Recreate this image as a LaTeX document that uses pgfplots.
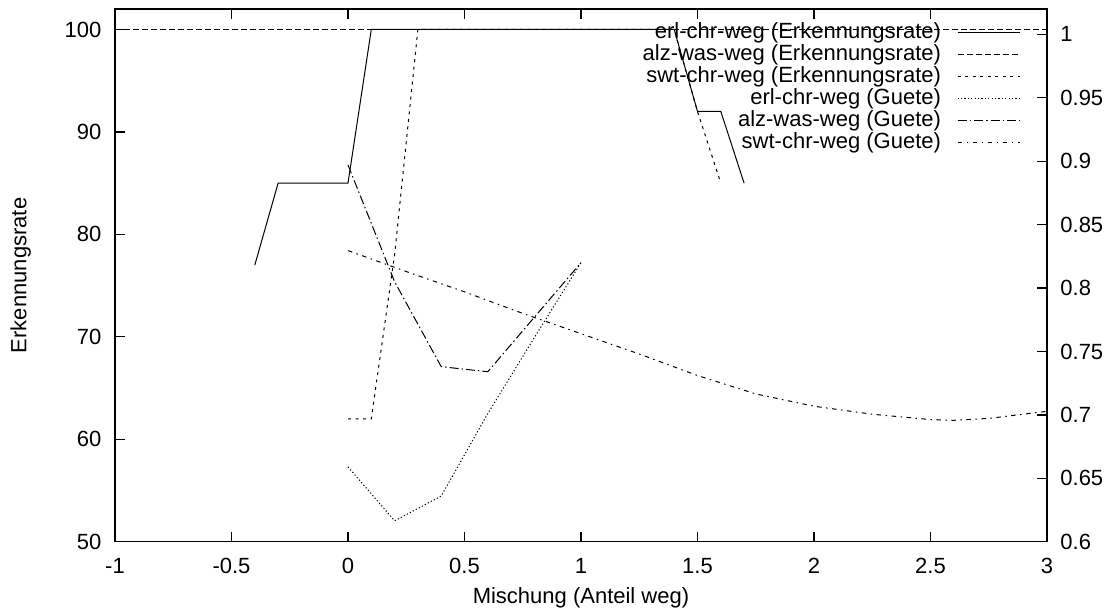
\documentclass[border=0pt]{standalone}
\usepackage{fontspec}
\setmainfont{Liberation Sans}
\usepackage{pgfplots}
\pgfplotsset{compat=1.18}

% gnuplot-like line types
\tikzset{
  ltA/.style={solid},
  ltB/.style={dash pattern=on 3pt off 1.5pt},
  ltC/.style={dash pattern=on 1.5pt off 2.25pt},
  ltD/.style={dash pattern=on 0.6pt off 1.1pt},
  ltE/.style={dash pattern=on 4.5pt off 1.5pt on 0.75pt off 1.5pt},
  ltF/.style={dash pattern=on 2.25pt off 2.25pt on 0.75pt off 2.25pt},
}

\pgfplotsset{
  mixaxis/.style={
    width=466pt, height=266.35pt, scale only axis,
    xmin=-1, xmax=3,
    tick align=inside,
    major tick length=5pt,
    axis line style={-, line width=0.65pt},
    tick style={line width=0.65pt, black},
    /pgf/number format/assume math mode=true,
    every axis plot/.append style={line width=0.5pt, black},
  }
}

\begin{document}
\begin{tikzpicture}[font=\fontsize{11}{13.2}\selectfont]
\begin{axis}[mixaxis,
    ymin=50, ymax=102,
    xtick={-1,-0.5,0,0.5,1,1.5,2,2.5,3},
    ytick={50,60,70,80,90,100},
    xtick pos=both, xticklabel pos=lower, ytick pos=left,
    xticklabel style={anchor=base, inner sep=0pt, yshift=-15.8pt},
    yticklabel style={anchor=east, inner sep=0pt, xshift=-6.6pt},
    xlabel={Mischung (Anteil weg)},
    ylabel={Erkennungsrate},
    xlabel style={at={(axis description cs:0.5,0)}, anchor=center, yshift=-28.3pt},
    ylabel style={at={(axis description cs:-0.1011,0.5)}, anchor=center},
  ]
  \coordinate (sw) at (rel axis cs:0,0);
  \coordinate (ne) at (rel axis cs:1,1);
  % erl-chr-weg (Erkennungsrate)
  \addplot[ltA] coordinates {
    (-0.4,77) (-0.3,85) (0,85) (0.1,100) (1.4,100) (1.5,92) (1.6,92) (1.7,85)
  };
  % alz-was-weg (Erkennungsrate)
  \addplot[ltB] coordinates {
    (-1,100) (3,100)
  };
  % swt-chr-weg (Erkennungsrate)
  \addplot[ltC] coordinates {
    (0,62) (0.1,62) (0.2,78) (0.3,100) (1.4,100) (1.5,92) (1.6,85)
  };
\end{axis}

\begin{axis}[mixaxis,
    ymin=0.6, ymax=1.02,
    ytick={0.6,0.65,0.7,0.75,0.8,0.85,0.9,0.95,1},
    axis x line=none, axis y line*=right, ytick pos=right,
    yticklabel style={anchor=west, inner sep=0pt, xshift=6.5pt},
    legend plot pos=right,
    legend cell align=right,
    legend image code/.code={\path (0pt,0pt); \draw[#1] (8pt,0pt) -- (39pt,0pt);},
    legend style={at={(rel axis cs:1,1)}, anchor=north east,
      xshift=-13.5pt, yshift=-6.4pt,
      draw=none, fill=none, inner sep=0pt, outer sep=0pt,
      row sep=0pt, column sep=0pt,
      nodes={inner sep=0pt, text height=8.5pt, text depth=2.5pt}},
  ]
  \addlegendimage{ltA, line width=0.5pt}
  \addlegendentry{erl-chr-weg (Erkennungsrate)}
  \addlegendimage{ltB, line width=0.5pt}
  \addlegendentry{alz-was-weg (Erkennungsrate)}
  \addlegendimage{ltC, line width=0.5pt}
  \addlegendentry{swt-chr-weg (Erkennungsrate)}
  % erl-chr-weg (Guete)
  \addplot[ltD] coordinates {
    (0,0.659) (0.2,0.6165) (0.4,0.636) (0.6,0.701) (0.8,0.761) (1.0,0.820)
  };
  \addlegendentry{erl-chr-weg (Guete)}
  % alz-was-weg (Guete)
  \addplot[ltE] coordinates {
    (0,0.897) (0.2,0.805) (0.4,0.738) (0.6,0.734) (0.8,0.777) (1.0,0.820)
  };
  \addlegendentry{alz-was-weg (Guete)}
  % swt-chr-weg (Guete)
  \addplot[ltF] coordinates {
    (0,0.8295) (0.25,0.813) (0.5,0.797) (0.75,0.780) (1.0,0.764)
    (1.25,0.748) (1.5,0.731) (1.75,0.7165) (2.0,0.7068) (2.25,0.7005)
    (2.5,0.6963) (2.6,0.6957) (2.75,0.6972) (3.0,0.7028)
  };
  \addlegendentry{swt-chr-weg (Guete)}
\end{axis}
\pgfresetboundingbox
\path[use as bounding box] ([shift={(-57.5pt,-36.15pt)}]sw) rectangle ([shift={(31pt,4.5pt)}]ne);
\end{tikzpicture}
\end{document}
